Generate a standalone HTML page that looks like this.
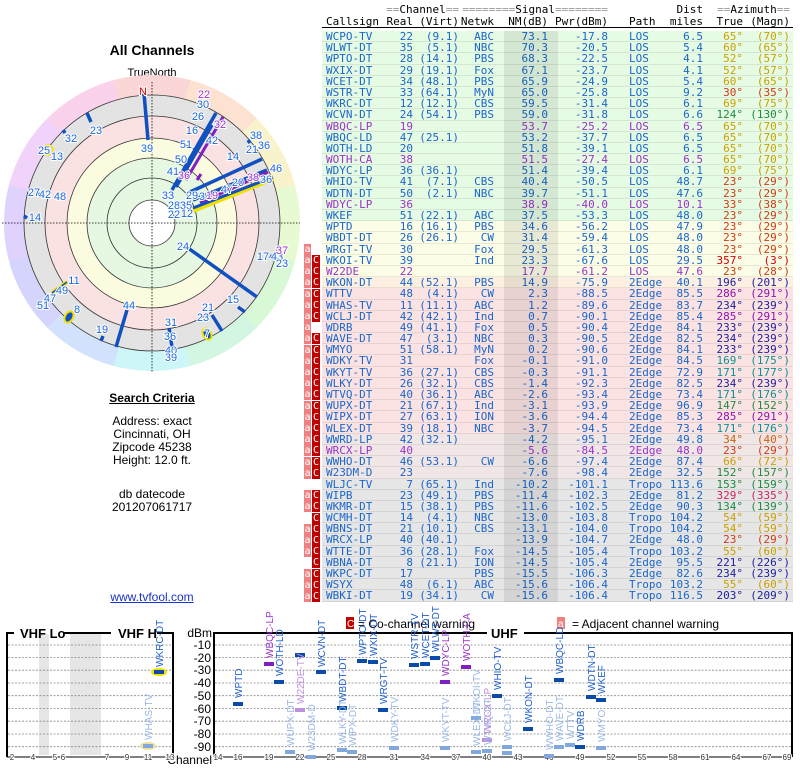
<!DOCTYPE html>
<html><head><meta charset="utf-8">
<style>
body{margin:0;background:#fff;}
#pg{position:relative;width:800px;height:768px;overflow:hidden;font-family:"Liberation Sans",sans-serif;}
.lt{position:absolute;width:304px;text-align:center;left:0;color:#000;font-size:12px;}
#ring{position:absolute;left:4px;top:75px;width:296px;height:296px;border-radius:50%;
background:conic-gradient(from -15deg,#fbd6d6 0 30deg,#fde2d2 30deg 60deg,#f9f3cc 60deg 90deg,#e8fad2 90deg 120deg,#d8f8d6 120deg 150deg,#d2f6e2 150deg 180deg,#ccf6f8 180deg 210deg,#d2e2fc 210deg 240deg,#d4d4fc 240deg 270deg,#dfd2fc 270deg 300deg,#f0d2fa 300deg 330deg,#fbd2ec 330deg 360deg);}
svg{position:absolute;left:0;top:0;}
.tb{position:absolute;left:322px;width:471px;font-family:"DejaVu Sans Mono","Liberation Mono",monospace;font-size:11px;color:#1a66cc;}
.h{position:absolute;left:322px;width:471px;height:12px;font-family:"DejaVu Sans Mono","Liberation Mono",monospace;font-size:11px;color:#000;}
.h span,.r span{position:absolute;white-space:pre;}
.r{position:relative;height:11.2px;line-height:11.2px;border-bottom:1px solid rgba(0,0,0,0.08);box-sizing:border-box;}
.g{background:#e6fbe4}.y{background:#fbfde6}.o{background:#fdf0e2}.p{background:#fbe3e3}.q{background:#f0e6e6}.s{background:#e6e6e6}
.c0{left:4px}.c1{right:380px}.c2{right:334px}.c3{right:299px}.c4{right:245px}.c5{right:185px}.c6{left:307px}.c7{right:90px}.c8{right:50px}.c9{right:3px}
.pu{color:#9933cc}
.au{color:#c8a000}.ar{color:#d03a10}.ao{color:#d06010}.ad{color:#d00000}.ag{color:#208a40}.an{color:#2020a0}.ap{color:#9010b0}.at{color:#109090}.am{color:#d02060}
#nm{position:absolute;left:504px;top:31px;width:54px;height:571px;background:rgba(0,0,0,0.08);}
.fl{position:absolute;width:16px;height:11px;font-family:"DejaVu Sans Mono",monospace;font-size:10px;line-height:11px;color:#fff;}
.fa{position:absolute;left:0;width:7px;background:#f08080;text-align:center}
.fc{position:absolute;left:8px;width:8px;background:#c00000;text-align:center}
</style></head><body><div id="pg">

<div class="lt" style="top:42px;font-size:14px;font-weight:bold">All Channels</div>
<div class="lt" style="top:67px;font-size:11px">TrueNorth</div>
<div id="ring"></div>

<div class="lt" style="top:391px;font-weight:bold;text-decoration:underline">Search Criteria</div>
<div class="lt" style="top:414px">Address: exact</div>
<div class="lt" style="top:427px">Cincinnati, OH</div>
<div class="lt" style="top:440px">Zipcode 45238</div>
<div class="lt" style="top:453px">Height: 12.0 ft.</div>
<div class="lt" style="top:487px">db datecode</div>
<div class="lt" style="top:500px">201207061717</div>
<div class="lt" style="top:590px;color:#1a33cc;text-decoration:underline">www.tvfool.com</div>

<svg width="800" height="768" viewBox="0 0 800 768">
<g stroke="#333" stroke-width="0.8">
<circle cx="152" cy="223" r="128" fill="#e3e3e3"/>
<circle cx="152" cy="223" r="107" fill="#fbe2e2"/>
<circle cx="152" cy="223" r="85" fill="#fbfbe0"/>
<circle cx="152" cy="223" r="65" fill="#e6f8e2"/>
<circle cx="152" cy="223" r="45" fill="#e6f8e2"/>
<circle cx="152" cy="223" r="23" fill="#fff"/>
</g>
<g stroke="#000" stroke-width="0.8" stroke-dasharray="1.5,1.5">
<line x1="2" y1="223" x2="300" y2="223"/><line x1="152" y1="82" x2="152" y2="372"/>
</g>
<g stroke="#1050c0" stroke-width="3.5" stroke-linecap="butt">
<line x1="144" y1="93" x2="148" y2="140"/>
<line x1="87" y1="113" x2="91" y2="122"/>
<line x1="63" y1="130" x2="65" y2="133"/>
<line x1="24" y1="216" x2="27" y2="218"/>
<line x1="36" y1="193" x2="40" y2="195"/>
<line x1="172" y1="190" x2="216" y2="113"/>
<line x1="176" y1="187" x2="212" y2="125"/>
<line x1="190" y1="192" x2="262" y2="159"/>
<line x1="193" y1="200" x2="267" y2="170"/>
<line x1="188" y1="248" x2="257" y2="297"/>
<line x1="238" y1="307" x2="245" y2="312"/>
<line x1="212" y1="315" x2="222" y2="331"/>
<line x1="127" y1="310" x2="116" y2="347"/>
<line x1="103" y1="336" x2="101" y2="341"/>
<line x1="169" y1="328" x2="172" y2="347"/>
<line x1="248" y1="140" x2="250" y2="143"/>
<line x1="270" y1="256" x2="274" y2="258"/>
</g>
<g stroke="#8020c0" stroke-width="3">
<line x1="186" y1="180" x2="223" y2="117"/>
<line x1="200" y1="203" x2="268" y2="172"/>
<line x1="197" y1="180" x2="201" y2="174"/>
</g>
<line x1="193" y1="210" x2="273" y2="178" stroke="#f0e000" stroke-width="6"/>
<line x1="193" y1="208" x2="273" y2="177" stroke="#1050c0" stroke-width="3"/>
<ellipse cx="207" cy="334" rx="4" ry="6" fill="#1050c0" stroke="#f0e000" stroke-width="2" transform="rotate(-30 207 334)"/>
<ellipse cx="69" cy="317" rx="4" ry="6" fill="#1050c0" stroke="#f0e000" stroke-width="2" transform="rotate(30 69 317)"/>
<line x1="52" y1="293" x2="67" y2="282" stroke="#f0e000" stroke-width="4"/>
<line x1="52" y1="293" x2="67" y2="282" stroke="#1050c0" stroke-width="1.5"/>
<circle cx="48" cy="150" r="5" fill="none" stroke="#f0e000" stroke-width="1.5"/>
<g font-family="Liberation Sans,sans-serif" font-size="11" fill="#1a66dd" text-anchor="middle" dominant-baseline="central" stroke="#fff" stroke-width="2" paint-order="stroke">
<text x="143" y="92" fill="#d00000">N</text>
<text x="147" y="149">39</text><text x="96" y="131">23</text><text x="71" y="139">32</text>
<text x="44" y="151">25</text><text x="57" y="157">13</text>
<text x="34" y="193">27</text><text x="45" y="195">42</text><text x="60" y="197">48</text>
<text x="35" y="218">14</text>
<text x="204" y="95" fill="#9933cc">22</text><text x="203" y="105">30</text><text x="198" y="117">26</text>
<text x="192" y="131">16</text><text x="220" y="125" fill="#9933cc">32</text><text x="212" y="141">42</text>
<text x="186" y="145">51</text><text x="181" y="160">50</text><text x="173" y="172">41</text>
<text x="184" y="176" fill="#9933cc">36</text><text x="168" y="196">33</text>
<text x="192" y="196">29</text><text x="205" y="197">34</text><text x="212" y="196" fill="#9933cc">19</text>
<text x="227" y="190">47</text><text x="238" y="183">20</text><text x="253" y="178" fill="#9933cc">38</text>
<text x="266" y="180">36</text><text x="276" y="169">46</text><text x="256" y="136">38</text>
<text x="252" y="150">21</text><text x="264" y="146">36</text><text x="233" y="157">14</text>
<text x="174" y="206">28</text><text x="186" y="206">35</text><text x="174" y="215">22</text><text x="187" y="214">12</text>
<text x="183" y="247">24</text><text x="263" y="257">17</text><text x="277" y="257">43</text>
<text x="282" y="251" fill="#9933cc">37</text><text x="282" y="264">23</text>
<text x="74" y="281">11</text><text x="62" y="291">49</text><text x="50" y="299">47</text><text x="43" y="306">51</text>
<text x="77" y="310">8</text><text x="129" y="306">44</text><text x="102" y="330">19</text>
<text x="233" y="300">15</text><text x="208" y="308">21</text><text x="203" y="318">23</text><text x="207" y="334">7</text>
<text x="171" y="323">31</text><text x="170" y="337">36</text><text x="171" y="351">40</text><text x="171" y="358">39</text>
</g>

<rect x="39" y="634" width="10" height="121" fill="#e6e6e6"/>
<rect x="70" y="634" width="31" height="121" fill="#e6e6e6"/>
<g stroke="#888" stroke-width="0.8" stroke-dasharray="2,1.5">
<line x1="8" y1="645" x2="173" y2="645"/><line x1="215" y1="645" x2="791" y2="645"/>
<line x1="8" y1="657.5" x2="173" y2="657.5"/><line x1="215" y1="657.5" x2="791" y2="657.5"/>
<line x1="8" y1="670.2" x2="173" y2="670.2"/><line x1="215" y1="670.2" x2="791" y2="670.2"/>
<line x1="8" y1="683" x2="173" y2="683"/><line x1="215" y1="683" x2="791" y2="683"/>
<line x1="8" y1="695.7" x2="173" y2="695.7"/><line x1="215" y1="695.7" x2="791" y2="695.7"/>
<line x1="8" y1="708.5" x2="173" y2="708.5"/><line x1="215" y1="708.5" x2="791" y2="708.5"/>
<line x1="8" y1="721.2" x2="173" y2="721.2"/><line x1="215" y1="721.2" x2="791" y2="721.2"/>
<line x1="8" y1="734" x2="173" y2="734"/><line x1="215" y1="734" x2="791" y2="734"/>
<line x1="8" y1="746.7" x2="173" y2="746.7"/><line x1="215" y1="746.7" x2="791" y2="746.7"/>
</g>
<g stroke="#000" stroke-width="2" fill="none">
<polyline points="14,633 7,633 7,757"/>
<polyline points="64,633 111,633"/>
<polyline points="157,633 173,633 173,757"/>
<polyline points="487,633 214,633 214,757"/>
<polyline points="524,633 792,633 792,757"/>
</g>
<g stroke="#000" stroke-width="1"><line x1="7" y1="757" x2="173" y2="757"/><line x1="214" y1="757" x2="792" y2="757"/></g>
<g font-family="Liberation Sans,sans-serif" font-size="13" font-weight="bold">
<text x="20" y="638">VHF Lo</text><text x="118" y="638">VHF H</text><text x="491" y="638">UHF</text>
</g>
<g font-family="Liberation Sans,sans-serif" font-size="12" text-anchor="end">
<text x="212" y="637">dBm</text><text x="211" y="649">-10</text><text x="211" y="662">-20</text><text x="211" y="674">-30</text>
<text x="211" y="687">-40</text><text x="211" y="700">-50</text><text x="211" y="713">-60</text><text x="211" y="725">-70</text>
<text x="211" y="738">-80</text><text x="211" y="751">-90</text><text x="212" y="764">Channel</text>
</g>
<g font-family="Liberation Sans,sans-serif" font-size="8" text-anchor="middle" fill="#333" stroke="#fff" stroke-width="2" paint-order="stroke">
<text x="12" y="760">2</text><text x="33" y="760">4</text><text x="55" y="760">5</text><text x="63" y="760">6</text>
<text x="107" y="760">7</text><text x="127" y="760">9</text><text x="148" y="760">11</text><text x="170" y="760">13</text>
<text x="218" y="760">14</text><text x="238" y="760">16</text><text x="269" y="760">19</text><text x="300" y="760">22</text>
<text x="331" y="760">25</text><text x="362" y="760">28</text><text x="394" y="760">31</text><text x="425" y="760">34</text>
<text x="456" y="760">37</text><text x="487" y="760">40</text><text x="518" y="760">43</text><text x="549" y="760">46</text>
<text x="580" y="760">49</text><text x="611" y="760">52</text><text x="642" y="760">55</text><text x="673" y="760">58</text>
<text x="705" y="760">61</text><text x="736" y="760">64</text><text x="767" y="760">67</text><text x="787" y="760">69</text>
</g>
<rect x="346" y="617" width="8" height="12" fill="#c00000"/><text x="347" y="627" font-family="Liberation Sans,sans-serif" font-size="10" fill="#fff">C</text>
<text x="358" y="628" font-family="Liberation Sans,sans-serif" font-size="12">= Co-channel warning</text>
<rect x="557" y="617" width="8" height="12" fill="#f08080"/><text x="558" y="627" font-family="Liberation Sans,sans-serif" font-size="10" fill="#fff">a</text>
<text x="572" y="628" font-family="Liberation Sans,sans-serif" font-size="12">= Adjacent channel warning</text>

<ellipse cx="159" cy="672" rx="8" ry="4" fill="#f0e000"/>
<ellipse cx="148" cy="746" rx="8" ry="4" fill="#f0e0a0"/>
<g fill="#0a4aa8">
<rect x="154" y="670" width="10" height="4"/>
<rect x="295" y="653" width="10" height="4"/><rect x="430" y="656" width="10" height="4"/>
<rect x="357" y="659" width="10" height="4"/><rect x="368" y="660" width="10" height="4"/>
<rect x="420" y="662" width="10" height="4"/><rect x="409" y="663" width="10" height="4"/>
<rect x="316" y="670" width="10" height="4"/><rect x="554" y="678" width="10" height="4"/>
<rect x="274" y="680" width="10" height="4"/><rect x="492" y="694" width="10" height="4"/>
<rect x="586" y="695" width="10" height="4"/><rect x="596" y="698" width="10" height="4"/>
<rect x="233" y="702" width="10" height="4"/><rect x="337" y="706" width="10" height="4"/>
<rect x="378" y="708" width="10" height="4"/><rect x="523" y="727" width="10" height="4"/>
<rect x="575" y="745" width="10" height="4"/>
</g>
<g fill="#8020c0"><rect x="264" y="662" width="10" height="4"/><rect x="461" y="665" width="10" height="4"/><rect x="440" y="680" width="10" height="4"/></g>
<g fill="#80a8dc">
<rect x="143" y="744" width="10" height="4"/>
<rect x="471" y="716" width="10" height="4"/><rect x="565" y="743" width="10" height="4"/>
<rect x="502" y="745" width="10" height="4"/><rect x="554" y="745" width="10" height="4"/>
<rect x="596" y="746" width="10" height="4"/><rect x="389" y="746" width="10" height="4"/>
<rect x="440" y="746" width="10" height="4"/><rect x="337" y="748" width="10" height="4"/>
<rect x="482" y="749" width="10" height="4"/><rect x="285" y="750" width="10" height="4"/>
<rect x="347" y="750" width="10" height="4"/><rect x="471" y="750" width="10" height="4"/>
<rect x="502" y="751" width="10" height="4"/><rect x="544" y="754" width="10" height="4"/>
<rect x="306" y="755" width="10" height="4"/>
</g>
<g fill="#c090e0"><rect x="295" y="708" width="10" height="4"/><rect x="482" y="738" width="10" height="4"/></g>

<g font-family="Liberation Sans,sans-serif" font-size="10" fill="#2060d0">
<text transform="translate(163,667) rotate(-90)">WKRC-DT</text>
<text transform="translate(242,698) rotate(-90)">WPTD</text>
<text transform="translate(283,676) rotate(-90)">WOTH-LD</text>
<text transform="translate(325,667) rotate(-90)">WCVN-DT</text>
<text transform="translate(346,702) rotate(-90)">WBDT-DT</text>
<text transform="translate(366,655) rotate(-90)">WPTO-DT</text>
<text transform="translate(377,656) rotate(-90)">WXIX-DT</text>
<text transform="translate(387,704) rotate(-90)">WRGT-TV</text>
<text transform="translate(418,659) rotate(-90)">WSTR-TV</text>
<text transform="translate(429,658) rotate(-90)">WCET-DT</text>
<text transform="translate(439,652) rotate(-90)">WLWT-DT</text>
<text transform="translate(501,690) rotate(-90)">WHIO-TV</text>
<text transform="translate(532,723) rotate(-90)">WKON-DT</text>
<text transform="translate(563,674) rotate(-90)">WBQC-LD</text>
<text transform="translate(584,741) rotate(-90)">WDRB</text>
<text transform="translate(595,691) rotate(-90)">WDTN-DT</text>
<text transform="translate(605,694) rotate(-90)">WKEF</text>
</g>
<g font-family="Liberation Sans,sans-serif" font-size="10" fill="#9933cc">
<text transform="translate(273,658) rotate(-90)">WBQC-LP</text>
<text transform="translate(449,676) rotate(-90)">WDYC-LP</text>
<text transform="translate(470,661) rotate(-90)">WOTH-CA</text>
</g>
<g font-family="Liberation Sans,sans-serif" font-size="10" fill="#9ab8e8">
<text transform="translate(152,740) rotate(-90)">WHAS-TV</text>
<text transform="translate(294,746) rotate(-90)">WUPX-DT</text>
<text transform="translate(315,751) rotate(-90)">W23DM-D</text>
<text transform="translate(346,744) rotate(-90)">WLKY-DT</text>
<text transform="translate(356,746) rotate(-90)">WIPX-DT</text>
<text transform="translate(398,742) rotate(-90)">WDKY-TV</text>
<text transform="translate(449,742) rotate(-90)">WKYT-TV</text>
<text transform="translate(480,712) rotate(-90)">WKOI-TV</text>
<text transform="translate(480,746) rotate(-90)">WLEX-DT</text>
<text transform="translate(491,745) rotate(-90)">WTVQ-DT</text>
<text transform="translate(511,741) rotate(-90)">WCLJ-DT</text>
<text transform="translate(553,750) rotate(-90)">WWHO-DT</text>
<text transform="translate(563,741) rotate(-90)">WAVE-DT</text>
<text transform="translate(574,739) rotate(-90)">WTTV</text>
<text transform="translate(605,742) rotate(-90)">WMYO</text>
</g>
<g font-family="Liberation Sans,sans-serif" font-size="10" fill="#c090e0">
<text transform="translate(304,704) rotate(-90)">W22DE-TV</text>
<text transform="translate(491,734) rotate(-90)">WRCX-LP</text>
</g>
</svg>

<div class="h" style="top:3px"><span style="right:334px;color:#999">==<span style="position:static;color:#000">Channel</span>==</span><span style="right:185px;color:#999">========<span style="position:static;color:#000">Signal</span>========</span><span style="right:90px">Dist</span><span style="right:3px;color:#999">==<span style="position:static;color:#000">Azimuth</span>==</span></div>
<div class="h" style="top:15px;border-bottom:1px solid #000"><span class="c0">Callsign</span><span class="c1">Real</span><span class="c2">(Virt)</span><span class="c3">Netwk</span><span class="c4">NM(dB)</span><span class="c5">Pwr(dBm)</span><span class="c6">Path</span><span class="c7">miles</span><span class="c8">True</span><span class="c9">(Magn)</span></div>

<div class="tb" style="top:31px">
<div class="r g"><span class="c0">WCPO-TV</span><span class="c1">22</span><span class="c2">(9.1)</span><span class="c3">ABC</span><span class="c4">73.1</span><span class="c5">-17.8</span><span class="c6">LOS</span><span class="c7">6.5</span><span class="c8 au">65°</span><span class="c9 au">(70°)</span></div>
<div class="r g"><span class="c0">WLWT-DT</span><span class="c1">35</span><span class="c2">(5.1)</span><span class="c3">NBC</span><span class="c4">70.3</span><span class="c5">-20.5</span><span class="c6">LOS</span><span class="c7">5.4</span><span class="c8 au">60°</span><span class="c9 au">(65°)</span></div>
<div class="r g"><span class="c0">WPTO-DT</span><span class="c1">28</span><span class="c2">(14.1)</span><span class="c3">PBS</span><span class="c4">68.3</span><span class="c5">-22.5</span><span class="c6">LOS</span><span class="c7">4.1</span><span class="c8 au">52°</span><span class="c9 au">(57°)</span></div>
<div class="r g"><span class="c0">WXIX-DT</span><span class="c1">29</span><span class="c2">(19.1)</span><span class="c3">Fox</span><span class="c4">67.1</span><span class="c5">-23.7</span><span class="c6">LOS</span><span class="c7">4.1</span><span class="c8 au">52°</span><span class="c9 au">(57°)</span></div>
<div class="r g"><span class="c0">WCET-DT</span><span class="c1">34</span><span class="c2">(48.1)</span><span class="c3">PBS</span><span class="c4">65.9</span><span class="c5">-24.9</span><span class="c6">LOS</span><span class="c7">5.4</span><span class="c8 au">60°</span><span class="c9 au">(65°)</span></div>
<div class="r g"><span class="c0">WSTR-TV</span><span class="c1">33</span><span class="c2">(64.1)</span><span class="c3">MyN</span><span class="c4">65.0</span><span class="c5">-25.8</span><span class="c6">LOS</span><span class="c7">9.2</span><span class="c8 ar">30°</span><span class="c9 ar">(35°)</span></div>
<div class="r g"><span class="c0">WKRC-DT</span><span class="c1">12</span><span class="c2">(12.1)</span><span class="c3">CBS</span><span class="c4">59.5</span><span class="c5">-31.4</span><span class="c6">LOS</span><span class="c7">6.1</span><span class="c8 au">69°</span><span class="c9 au">(75°)</span></div>
<div class="r g"><span class="c0">WCVN-DT</span><span class="c1">24</span><span class="c2">(54.1)</span><span class="c3">PBS</span><span class="c4">59.0</span><span class="c5">-31.8</span><span class="c6">LOS</span><span class="c7">6.6</span><span class="c8 ag">124°</span><span class="c9 ag">(130°)</span></div>
<div class="r g pu"><span class="c0">WBQC-LP</span><span class="c1">19</span><span class="c4">53.7</span><span class="c5">-25.2</span><span class="c6">LOS</span><span class="c7">6.5</span><span class="c8 au">65°</span><span class="c9 au">(70°)</span></div>
<div class="r g"><span class="c0">WBQC-LD</span><span class="c1">47</span><span class="c2">(25.1)</span><span class="c4">53.2</span><span class="c5">-37.7</span><span class="c6">LOS</span><span class="c7">6.5</span><span class="c8 au">65°</span><span class="c9 au">(70°)</span></div>
<div class="r g"><span class="c0">WOTH-LD</span><span class="c1">20</span><span class="c4">51.8</span><span class="c5">-39.1</span><span class="c6">LOS</span><span class="c7">6.5</span><span class="c8 au">65°</span><span class="c9 au">(70°)</span></div>
<div class="r g pu"><span class="c0">WOTH-CA</span><span class="c1">38</span><span class="c4">51.5</span><span class="c5">-27.4</span><span class="c6">LOS</span><span class="c7">6.5</span><span class="c8 au">65°</span><span class="c9 au">(70°)</span></div>
<div class="r g"><span class="c0">WDYC-LP</span><span class="c1">36</span><span class="c2">(36.1)</span><span class="c4">51.4</span><span class="c5">-39.4</span><span class="c6">LOS</span><span class="c7">6.1</span><span class="c8 au">69°</span><span class="c9 au">(75°)</span></div>
<div class="r g"><span class="c0">WHIO-TV</span><span class="c1">41</span><span class="c2">(7.1)</span><span class="c3">CBS</span><span class="c4">40.4</span><span class="c5">-50.5</span><span class="c6">LOS</span><span class="c7">48.7</span><span class="c8 ar">23°</span><span class="c9 ar">(29°)</span></div>
<div class="r g"><span class="c0">WDTN-DT</span><span class="c1">50</span><span class="c2">(2.1)</span><span class="c3">NBC</span><span class="c4">39.7</span><span class="c5">-51.1</span><span class="c6">LOS</span><span class="c7">47.6</span><span class="c8 ar">23°</span><span class="c9 ar">(29°)</span></div>
<div class="r g pu"><span class="c0">WDYC-LP</span><span class="c1">36</span><span class="c4">38.9</span><span class="c5">-40.0</span><span class="c6">LOS</span><span class="c7">10.1</span><span class="c8 ar">33°</span><span class="c9 ar">(38°)</span></div>
<div class="r g"><span class="c0">WKEF</span><span class="c1">51</span><span class="c2">(22.1)</span><span class="c3">ABC</span><span class="c4">37.5</span><span class="c5">-53.3</span><span class="c6">LOS</span><span class="c7">48.0</span><span class="c8 ar">23°</span><span class="c9 ar">(29°)</span></div>
<div class="r y"><span class="c0">WPTD</span><span class="c1">16</span><span class="c2">(16.1)</span><span class="c3">PBS</span><span class="c4">34.6</span><span class="c5">-56.2</span><span class="c6">LOS</span><span class="c7">47.9</span><span class="c8 ar">23°</span><span class="c9 ar">(29°)</span></div>
<div class="r y"><span class="c0">WBDT-DT</span><span class="c1">26</span><span class="c2">(26.1)</span><span class="c3">CW</span><span class="c4">31.4</span><span class="c5">-59.4</span><span class="c6">LOS</span><span class="c7">48.0</span><span class="c8 ar">23°</span><span class="c9 ar">(29°)</span></div>
<div class="r y"><span class="c0">WRGT-TV</span><span class="c1">30</span><span class="c3">Fox</span><span class="c4">29.5</span><span class="c5">-61.3</span><span class="c6">LOS</span><span class="c7">48.0</span><span class="c8 ar">23°</span><span class="c9 ar">(29°)</span></div>
<div class="r y"><span class="c0">WKOI-TV</span><span class="c1">39</span><span class="c3">Ind</span><span class="c4">23.3</span><span class="c5">-67.6</span><span class="c6">LOS</span><span class="c7">29.5</span><span class="c8 ad">357°</span><span class="c9 ad">(3°)</span></div>
<div class="r y pu"><span class="c0">W22DE</span><span class="c1">22</span><span class="c4">17.7</span><span class="c5">-61.2</span><span class="c6">LOS</span><span class="c7">47.6</span><span class="c8 ar">23°</span><span class="c9 ar">(28°)</span></div>
<div class="r o"><span class="c0">WKON-DT</span><span class="c1">44</span><span class="c2">(52.1)</span><span class="c3">PBS</span><span class="c4">14.9</span><span class="c5">-75.9</span><span class="c6">2Edge</span><span class="c7">40.1</span><span class="c8 an">196°</span><span class="c9 an">(201°)</span></div>
<div class="r p"><span class="c0">WTTV</span><span class="c1">48</span><span class="c2">(4.1)</span><span class="c3">CW</span><span class="c4">2.3</span><span class="c5">-88.5</span><span class="c6">2Edge</span><span class="c7">85.5</span><span class="c8 ap">286°</span><span class="c9 ap">(291°)</span></div>
<div class="r p"><span class="c0">WHAS-TV</span><span class="c1">11</span><span class="c2">(11.1)</span><span class="c3">ABC</span><span class="c4">1.2</span><span class="c5">-89.6</span><span class="c6">2Edge</span><span class="c7">83.7</span><span class="c8 an">234°</span><span class="c9 an">(239°)</span></div>
<div class="r p"><span class="c0">WCLJ-DT</span><span class="c1">42</span><span class="c2">(42.1)</span><span class="c3">Ind</span><span class="c4">0.7</span><span class="c5">-90.1</span><span class="c6">2Edge</span><span class="c7">85.4</span><span class="c8 ap">285°</span><span class="c9 ap">(291°)</span></div>
<div class="r p"><span class="c0">WDRB</span><span class="c1">49</span><span class="c2">(41.1)</span><span class="c3">Fox</span><span class="c4">0.5</span><span class="c5">-90.4</span><span class="c6">2Edge</span><span class="c7">84.1</span><span class="c8 an">233°</span><span class="c9 an">(239°)</span></div>
<div class="r p"><span class="c0">WAVE-DT</span><span class="c1">47</span><span class="c2">(3.1)</span><span class="c3">NBC</span><span class="c4">0.3</span><span class="c5">-90.5</span><span class="c6">2Edge</span><span class="c7">82.5</span><span class="c8 an">234°</span><span class="c9 an">(239°)</span></div>
<div class="r p"><span class="c0">WMYO</span><span class="c1">51</span><span class="c2">(58.1)</span><span class="c3">MyN</span><span class="c4">0.2</span><span class="c5">-90.6</span><span class="c6">2Edge</span><span class="c7">84.1</span><span class="c8 an">233°</span><span class="c9 an">(239°)</span></div>
<div class="r p"><span class="c0">WDKY-TV</span><span class="c1">31</span><span class="c3">Fox</span><span class="c4">-0.1</span><span class="c5">-91.0</span><span class="c6">2Edge</span><span class="c7">84.5</span><span class="c8 at">169°</span><span class="c9 at">(175°)</span></div>
<div class="r p"><span class="c0">WKYT-TV</span><span class="c1">36</span><span class="c2">(27.1)</span><span class="c3">CBS</span><span class="c4">-0.3</span><span class="c5">-91.1</span><span class="c6">2Edge</span><span class="c7">72.9</span><span class="c8 at">171°</span><span class="c9 at">(177°)</span></div>
<div class="r p"><span class="c0">WLKY-DT</span><span class="c1">26</span><span class="c2">(32.1)</span><span class="c3">CBS</span><span class="c4">-1.4</span><span class="c5">-92.3</span><span class="c6">2Edge</span><span class="c7">82.5</span><span class="c8 an">234°</span><span class="c9 an">(239°)</span></div>
<div class="r p"><span class="c0">WTVQ-DT</span><span class="c1">40</span><span class="c2">(36.1)</span><span class="c3">ABC</span><span class="c4">-2.6</span><span class="c5">-93.4</span><span class="c6">2Edge</span><span class="c7">73.4</span><span class="c8 at">171°</span><span class="c9 at">(176°)</span></div>
<div class="r p"><span class="c0">WUPX-DT</span><span class="c1">21</span><span class="c2">(67.1)</span><span class="c3">Ind</span><span class="c4">-3.1</span><span class="c5">-93.9</span><span class="c6">2Edge</span><span class="c7">96.9</span><span class="c8 ag">147°</span><span class="c9 ag">(152°)</span></div>
<div class="r p"><span class="c0">WIPX-DT</span><span class="c1">27</span><span class="c2">(63.1)</span><span class="c3">ION</span><span class="c4">-3.6</span><span class="c5">-94.4</span><span class="c6">2Edge</span><span class="c7">85.3</span><span class="c8 ap">285°</span><span class="c9 ap">(291°)</span></div>
<div class="r p"><span class="c0">WLEX-DT</span><span class="c1">39</span><span class="c2">(18.1)</span><span class="c3">NBC</span><span class="c4">-3.7</span><span class="c5">-94.5</span><span class="c6">2Edge</span><span class="c7">73.4</span><span class="c8 at">171°</span><span class="c9 at">(176°)</span></div>
<div class="r q"><span class="c0">WWRD-LP</span><span class="c1">42</span><span class="c2">(32.1)</span><span class="c4">-4.2</span><span class="c5">-95.1</span><span class="c6">2Edge</span><span class="c7">49.8</span><span class="c8 ao">34°</span><span class="c9 ao">(40°)</span></div>
<div class="r q pu"><span class="c0">WRCX-LP</span><span class="c1">40</span><span class="c4">-5.6</span><span class="c5">-84.5</span><span class="c6">2Edge</span><span class="c7">48.0</span><span class="c8 ar">23°</span><span class="c9 ar">(29°)</span></div>
<div class="r q"><span class="c0">WWHO-DT</span><span class="c1">46</span><span class="c2">(53.1)</span><span class="c3">CW</span><span class="c4">-6.6</span><span class="c5">-97.4</span><span class="c6">2Edge</span><span class="c7">87.4</span><span class="c8 au">66°</span><span class="c9 au">(72°)</span></div>
<div class="r q"><span class="c0">W23DM-D</span><span class="c1">23</span><span class="c4">-7.6</span><span class="c5">-98.4</span><span class="c6">2Edge</span><span class="c7">32.5</span><span class="c8 ag">152°</span><span class="c9 ag">(157°)</span></div>
<div class="r s"><span class="c0">WLJC-TV</span><span class="c1">7</span><span class="c2">(65.1)</span><span class="c3">Ind</span><span class="c4">-10.2</span><span class="c5">-101.1</span><span class="c6">Tropo</span><span class="c7">113.6</span><span class="c8 ag">153°</span><span class="c9 ag">(159°)</span></div>
<div class="r s"><span class="c0">WIPB</span><span class="c1">23</span><span class="c2">(49.1)</span><span class="c3">PBS</span><span class="c4">-11.4</span><span class="c5">-102.3</span><span class="c6">2Edge</span><span class="c7">81.2</span><span class="c8 am">329°</span><span class="c9 am">(335°)</span></div>
<div class="r s"><span class="c0">WKMR-DT</span><span class="c1">15</span><span class="c2">(38.1)</span><span class="c3">PBS</span><span class="c4">-11.6</span><span class="c5">-102.5</span><span class="c6">2Edge</span><span class="c7">90.3</span><span class="c8 ag">134°</span><span class="c9 ag">(139°)</span></div>
<div class="r s"><span class="c0">WCMH-DT</span><span class="c1">14</span><span class="c2">(4.1)</span><span class="c3">NBC</span><span class="c4">-13.0</span><span class="c5">-103.8</span><span class="c6">Tropo</span><span class="c7">104.2</span><span class="c8 au">54°</span><span class="c9 au">(59°)</span></div>
<div class="r s"><span class="c0">WBNS-DT</span><span class="c1">21</span><span class="c2">(10.1)</span><span class="c3">CBS</span><span class="c4">-13.1</span><span class="c5">-104.0</span><span class="c6">Tropo</span><span class="c7">104.2</span><span class="c8 au">54°</span><span class="c9 au">(59°)</span></div>
<div class="r s"><span class="c0">WRCX-LP</span><span class="c1">40</span><span class="c2">(40.1)</span><span class="c4">-13.9</span><span class="c5">-104.7</span><span class="c6">2Edge</span><span class="c7">48.0</span><span class="c8 ar">23°</span><span class="c9 ar">(29°)</span></div>
<div class="r s"><span class="c0">WTTE-DT</span><span class="c1">36</span><span class="c2">(28.1)</span><span class="c3">Fox</span><span class="c4">-14.5</span><span class="c5">-105.4</span><span class="c6">Tropo</span><span class="c7">103.2</span><span class="c8 au">55°</span><span class="c9 au">(60°)</span></div>
<div class="r s"><span class="c0">WBNA-DT</span><span class="c1">8</span><span class="c2">(21.1)</span><span class="c3">ION</span><span class="c4">-14.5</span><span class="c5">-105.4</span><span class="c6">2Edge</span><span class="c7">95.5</span><span class="c8 an">221°</span><span class="c9 an">(226°)</span></div>
<div class="r s"><span class="c0">WKPC-DT</span><span class="c1">17</span><span class="c3">PBS</span><span class="c4">-15.5</span><span class="c5">-106.3</span><span class="c6">2Edge</span><span class="c7">82.6</span><span class="c8 an">234°</span><span class="c9 an">(239°)</span></div>
<div class="r s"><span class="c0">WSYX</span><span class="c1">48</span><span class="c2">(6.1)</span><span class="c3">ABC</span><span class="c4">-15.6</span><span class="c5">-106.4</span><span class="c6">Tropo</span><span class="c7">103.2</span><span class="c8 au">55°</span><span class="c9 au">(60°)</span></div>
<div class="r s"><span class="c0">WBKI-DT</span><span class="c1">19</span><span class="c2">(34.1)</span><span class="c3">CW</span><span class="c4">-15.6</span><span class="c5">-106.4</span><span class="c6">Tropo</span><span class="c7">116.5</span><span class="c8 an">203°</span><span class="c9 an">(209°)</span></div>
</div>
<div id="nm"></div>

<div class="fl" style="left:304px;top:244px"><span class="fa">a</span></div>
<div class="fl" style="left:304px;top:255px"><span class="fa">a</span><span class="fc">C</span></div>
<div class="fl" style="left:304px;top:266px"><span class="fa">a</span><span class="fc">C</span></div>
<div class="fl" style="left:304px;top:277px"><span class="fa">a</span><span class="fc">C</span></div>
<div class="fl" style="left:304px;top:289px"><span class="fa">a</span><span class="fc">C</span></div>
<div class="fl" style="left:304px;top:300px"><span class="fa">a</span><span class="fc">C</span></div>
<div class="fl" style="left:304px;top:311px"><span class="fa">a</span><span class="fc">C</span></div>
<div class="fl" style="left:304px;top:322px"><span class="fa">a</span></div>
<div class="fl" style="left:304px;top:333px"><span class="fa">a</span><span class="fc">C</span></div>
<div class="fl" style="left:304px;top:345px"><span class="fa">a</span><span class="fc">C</span></div>
<div class="fl" style="left:304px;top:356px"><span class="fa">a</span><span class="fc">C</span></div>
<div class="fl" style="left:304px;top:367px"><span class="fa">a</span><span class="fc">C</span></div>
<div class="fl" style="left:304px;top:378px"><span class="fa">a</span><span class="fc">C</span></div>
<div class="fl" style="left:304px;top:389px"><span class="fa">a</span><span class="fc">C</span></div>
<div class="fl" style="left:304px;top:401px"><span class="fa">a</span><span class="fc">C</span></div>
<div class="fl" style="left:304px;top:412px"><span class="fa">a</span><span class="fc">C</span></div>
<div class="fl" style="left:304px;top:423px"><span class="fa">a</span><span class="fc">C</span></div>
<div class="fl" style="left:304px;top:434px"><span class="fa">a</span><span class="fc">C</span></div>
<div class="fl" style="left:304px;top:445px"><span class="fa">a</span><span class="fc">C</span></div>
<div class="fl" style="left:304px;top:457px"><span class="fa">a</span><span class="fc">C</span></div>
<div class="fl" style="left:304px;top:468px"><span class="fa">a</span><span class="fc">C</span></div>
<div class="fl" style="left:304px;top:490px"><span class="fa">a</span><span class="fc">C</span></div>
<div class="fl" style="left:304px;top:501px"><span class="fa">a</span><span class="fc">C</span></div>
<div class="fl" style="left:304px;top:513px"><span class="fc">C</span></div>
<div class="fl" style="left:304px;top:524px"><span class="fa">a</span><span class="fc">C</span></div>
<div class="fl" style="left:304px;top:535px"><span class="fa">a</span><span class="fc">C</span></div>
<div class="fl" style="left:304px;top:546px"><span class="fa">a</span><span class="fc">C</span></div>
<div class="fl" style="left:304px;top:557px"><span class="fc">C</span></div>
<div class="fl" style="left:304px;top:569px"><span class="fa">a</span><span class="fc">C</span></div>
<div class="fl" style="left:304px;top:580px"><span class="fa">a</span><span class="fc">C</span></div>
<div class="fl" style="left:304px;top:591px"><span class="fa">a</span><span class="fc">C</span></div>
</div></body></html>
